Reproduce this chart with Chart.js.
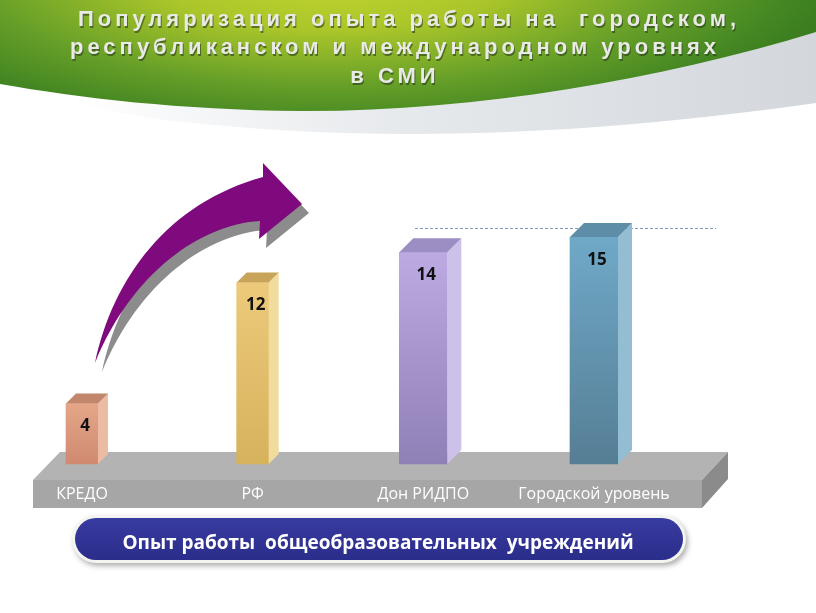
<!DOCTYPE html>
<html>
<head>
<meta charset="utf-8">
<script src="https://cdn.jsdelivr.net/npm/chart.js@4.4.1/dist/chart.umd.min.js"></script>
<style>
  html, body { margin: 0; padding: 0; background: #fff; overflow: hidden; }
  canvas { display: block; }
</style>
</head>
<body>
<canvas id="barChart" width="816" height="613"></canvas>
<script>
// data
const categories = ['КРЕДО', 'РФ', 'Дон РИДПО', 'Городской уровень'];
const values = [4, 12, 14, 15];
const yMax = 15.6;
const titleLines = ['Популяризация опыта работы на  городском,', 'республиканском и международном уровнях', 'в СМИ'];
const footerText = 'Опыт работы  общеобразовательных  учреждений';

// styles
const narrow = [true, true, false, false];
const faceTop = ['#e4a688', '#ecca7a', '#bdaae3', '#6fa9c8'];
const faceBottom = ['#cf8a70', '#d7b25d', '#8f80b6', '#567e95'];
const sideColor = ['#ecbba4', '#f1dc9d', '#cdc1ea', '#93bdd3'];
const topColor = ['#c2866b', '#c8a45a', '#9c8ec3', '#5e8ea7'];

function pick(flag) {
  return values.map((v, i) => narrow[i] === flag ? v : null);
}

function frontFill(context) {
  const chart = context.chart;
  const i = context.dataIndex;
  if (!chart.chartArea) return faceTop[i];
  const y = chart.scales.y;
  const g = chart.ctx.createLinearGradient(0, y.getPixelForValue(values[i]), 0, y.getPixelForValue(0));
  g.addColorStop(0, faceTop[i]);
  g.addColorStop(1, faceBottom[i]);
  return g;
}

function drawBackground(ctx) {
  // grey swoosh under the green band
  ctx.beginPath();
  ctx.moveTo(0, 0);
  ctx.lineTo(816, 0);
  ctx.lineTo(816, 103);
  ctx.bezierCurveTo(640, 128, 400, 150, 150, 118);
  ctx.lineTo(0, 92);
  ctx.closePath();
  let g = ctx.createLinearGradient(80, 0, 816, 0);
  g.addColorStop(0, 'rgba(226,229,233,0)');
  g.addColorStop(0.45, '#e6e9ec');
  g.addColorStop(1, '#d3d7dc');
  ctx.fillStyle = g;
  ctx.fill();

  // green band
  ctx.beginPath();
  ctx.moveTo(0, 0);
  ctx.lineTo(816, 0);
  ctx.lineTo(816, 32);
  ctx.bezierCurveTo(660, 80, 470, 112, 300, 111);
  ctx.bezierCurveTo(180, 110, 80, 98, 0, 84);
  ctx.closePath();
  ctx.save();
  ctx.translate(330, -30);
  ctx.scale(1, 0.33);
  g = ctx.createRadialGradient(0, 0, 10, 0, 0, 580);
  g.addColorStop(0, '#c4d62e');
  g.addColorStop(0.3, '#abc62a');
  g.addColorStop(0.6, '#669f28');
  g.addColorStop(0.8, '#438622');
  g.addColorStop(1, '#30701b');
  ctx.fillStyle = g;
  ctx.fill();
  ctx.restore();
}

function drawTitle(ctx) {
  ctx.font = 'bold 22px "Liberation Sans", Arial, sans-serif';
  ctx.letterSpacing = '0px';
  const w0 = ctx.measureText(titleLines[1]).width;
  const sp = (650 - w0) / titleLines[1].length;
  ctx.letterSpacing = sp + 'px';
  ctx.textAlign = 'center';
  ctx.textBaseline = 'middle';
  const xs = [407, 393, 393];
  const ys = [20, 48, 77];
  titleLines.forEach((t, i) => {
    ctx.fillStyle = 'rgba(40,60,25,0.6)';
    ctx.fillText(t, xs[i] + sp / 2 + 1, ys[i] + 1.5);
    ctx.fillStyle = '#e9e9e6';
    ctx.fillText(t, xs[i] + sp / 2, ys[i]);
  });
  ctx.letterSpacing = '0px';
}

function drawPlatform(ctx) {
  ctx.fillStyle = '#b3b3b3';
  ctx.beginPath();
  ctx.moveTo(60, 452); ctx.lineTo(728, 452); ctx.lineTo(702, 480); ctx.lineTo(33, 480);
  ctx.closePath(); ctx.fill();
  ctx.fillStyle = '#a6a6a6';
  ctx.fillRect(33, 480, 669, 28);
  ctx.fillStyle = '#8b8b8b';
  ctx.beginPath();
  ctx.moveTo(702, 480); ctx.lineTo(728, 452); ctx.lineTo(728, 479); ctx.lineTo(702, 508);
  ctx.closePath(); ctx.fill();
}

function drawFooter(ctx) {
  ctx.save();
  ctx.shadowColor = 'rgba(0,0,0,0.3)';
  ctx.shadowBlur = 5;
  ctx.shadowOffsetX = 2;
  ctx.shadowOffsetY = 3;
  ctx.fillStyle = '#f4f4f0';
  ctx.beginPath();
  ctx.roundRect(72, 515, 614, 48, 24);
  ctx.fill();
  ctx.restore();
  const g = ctx.createLinearGradient(0, 518, 0, 560);
  g.addColorStop(0, '#383ba0');
  g.addColorStop(1, '#2b2d8a');
  ctx.fillStyle = g;
  ctx.beginPath();
  ctx.roundRect(75, 518, 608, 42, 21);
  ctx.fill();
  ctx.fillStyle = '#ffffff';
  ctx.font = 'bold 19px "Open Sans", sans-serif';
  ctx.textAlign = 'center';
  ctx.textBaseline = 'middle';
  ctx.fillText(footerText, 378, 544);
}

function drawArrow(ctx) {
  const path = (dx, dy) => {
    ctx.beginPath();
    ctx.moveTo(95 + dx, 363 + dy);
    ctx.bezierCurveTo(113 + dx, 278 + dy, 168 + dx, 203 + dy, 263 + dx, 177 + dy);
    ctx.lineTo(263 + dx, 163 + dy);
    ctx.lineTo(302 + dx, 204 + dy);
    ctx.lineTo(259 + dx, 239 + dy);
    ctx.lineTo(260 + dx, 221 + dy);
    ctx.bezierCurveTo(202 + dx, 224 + dy, 132 + dx, 272 + dy, 95 + dx, 363 + dy);
    ctx.closePath();
  };
  ctx.fillStyle = '#8c8c8c';
  path(7, 9); ctx.fill();
  ctx.fillStyle = '#7e0a7e';
  path(0, 0); ctx.fill();
}

const slidePlugin = {
  id: 'slide',
  beforeDraw(chart) {
    const ctx = chart.ctx;
    ctx.save();
    ctx.fillStyle = '#ffffff';
    ctx.fillRect(0, 0, chart.width, chart.height);
    drawBackground(ctx);
    drawTitle(ctx);
    drawPlatform(ctx);
    drawFooter(ctx);
    ctx.restore();
  },
  beforeDatasetsDraw(chart) {
    const ctx = chart.ctx;
    const y = chart.scales.y.getPixelForValue(yMax);
    ctx.save();
    ctx.strokeStyle = '#7c9cc0';
    ctx.lineWidth = 1;
    ctx.setLineDash([3, 2]);
    ctx.beginPath();
    ctx.moveTo(415, y + 0.5);
    ctx.lineTo(716, y + 0.5);
    ctx.stroke();
    ctx.restore();
  },
  afterDatasetsDraw(chart) {
    const ctx = chart.ctx;
    ctx.save();
    chart.data.datasets.forEach((ds, di) => {
      chart.getDatasetMeta(di).data.forEach((bar, i) => {
        if (ds.data[i] == null) return;
        const w = bar.width;
        const d = Math.round(w * 0.3);
        const l = bar.x - w / 2, r = bar.x + w / 2;
        const t = bar.y, b = bar.base;
        ctx.fillStyle = sideColor[i];
        ctx.beginPath();
        ctx.moveTo(r, t); ctx.lineTo(r + d, t - d); ctx.lineTo(r + d, b - d); ctx.lineTo(r, b);
        ctx.closePath(); ctx.fill();
        ctx.fillStyle = topColor[i];
        ctx.beginPath();
        ctx.moveTo(l, t); ctx.lineTo(l + d, t - d); ctx.lineTo(r + d, t - d); ctx.lineTo(r, t);
        ctx.closePath(); ctx.fill();
        ctx.fillStyle = '#111111';
        ctx.font = 'bold 17px "Open Sans", sans-serif';
        ctx.textAlign = 'center';
        ctx.textBaseline = 'middle';
        ctx.fillText(String(ds.data[i]), bar.x + 3, t + 23);
      });
    });
    drawArrow(ctx);
    ctx.restore();
  }
};

const barChart = new Chart(document.getElementById('barChart'), {
  type: 'bar',
  data: {
    labels: categories,
    datasets: [
      { data: pick(true), barThickness: 32, backgroundColor: frontFill, borderWidth: 0, clip: false },
      { data: pick(false), barThickness: 48, backgroundColor: frontFill, borderWidth: 0, clip: false }
    ]
  },
  options: {
    responsive: false,
    animation: false,
    grouped: false,
    layout: { padding: { left: 82, right: 222, top: 228, bottom: 109 } },
    plugins: { legend: { display: false }, tooltip: { enabled: false }, title: { display: false } },
    scales: {
      x: {
        offset: false,
        grid: { display: false, drawTicks: false },
        border: { display: false },
        ticks: {
          color: '#ffffff',
          font: { family: '"Open Sans", sans-serif', size: 16 },
          padding: 21,
          autoSkip: false,
          maxRotation: 0
        },
        afterFit(scale) { scale.height = 40; }
      },
      y: { display: false, min: 0, max: yMax }
    }
  },
  plugins: [slidePlugin]
});
</script>
</body>
</html>
